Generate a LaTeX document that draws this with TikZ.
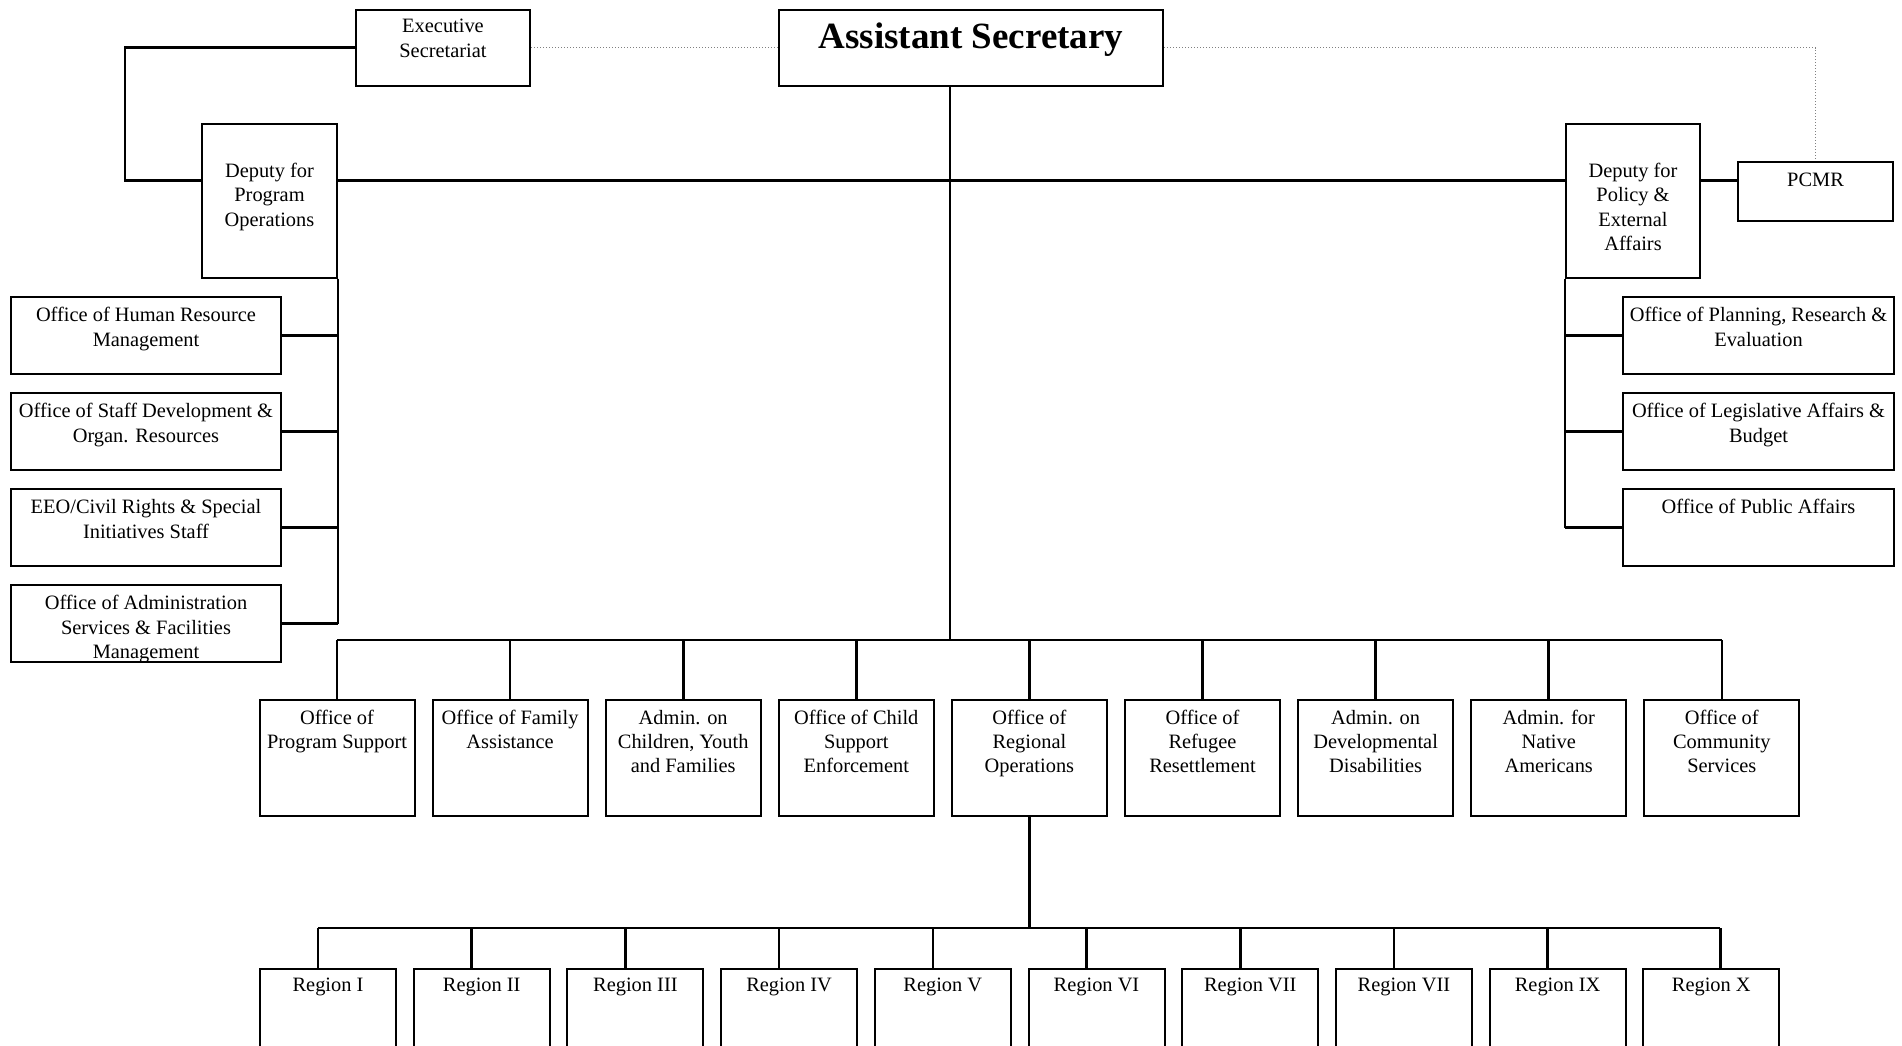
\documentclass[tikz,border=0pt]{standalone}
\usepackage{fontspec}
\setmainfont{Liberation Serif}
\usetikzlibrary{calc}
\newlength\pxu \setlength\pxu{0.5pt}
\newcommand{\obx}[4]{\parbox[c][#2\pxu][t]{#1\pxu}{\centering\rule{0pt}{#3\pxu}#4\par}}
\tikzset{
  ob/.style={draw, line width=1pt, inner sep=0pt, anchor=north west, font=\fontsize{10.2}{12.2}\selectfont},
  conn/.style={line width=1.3pt},
  dotline/.style={densely dotted, line width=0.5pt, gray},
}
\begin{document}
\begin{tikzpicture}[x=0.5pt,y=-0.5pt]
\useasboundingbox (0,0) rectangle (1902,1045);
\clip (0,0) rectangle (1902,1045);
% top level
\node[ob] (exec) at (355,8.5) {\obx{174}{76.5}{23.2}{Executive\\Secretariat}};
\node[ob,font=\fontsize{18.5}{22}\selectfont\bfseries] (asst) at (778,8.5) {\obx{384}{76.5}{39}{Assistant Secretary}};
\node[ob] (dpo) at (201,122.5) {\obx{135}{154}{54}{Deputy for\\Program\\Operations}};
\node[ob] (dpe) at (1565,122.5) {\obx{134}{154}{54}{Deputy for\\Policy \&\\External\\Affairs}};
\node[ob] (pcmr) at (1737,161) {\obx{155}{59}{24.7}{PCMR}};
% left staff
\node[ob] (l1) at (10,296) {\obx{270}{77}{24.7}{Office of Human Resource\\Management}};
\node[ob] (l2) at (10,392) {\obx{270}{77}{24.7}{Office of Staff Development \&\\Organ. Resources}};
\node[ob] (l3) at (10,488) {\obx{270}{77}{24.7}{EEO/Civil Rights \& Special\\Initiatives Staff}};
\node[ob] (l4) at (10,584) {\obx{270}{77}{24.7}{Office of Administration\\Services \& Facilities\\Management}};
% right staff
\node[ob] (r1) at (1622,296) {\obx{271}{77}{24.7}{Office of Planning, Research \&\\Evaluation}};
\node[ob] (r2) at (1622,392) {\obx{271}{77}{24.7}{Office of Legislative Affairs \&\\Budget}};
\node[ob] (r3) at (1622,488) {\obx{271}{77}{24.7}{Office of Public Affairs}};
% middle row
\node[ob] (m1) at (258.5,699) {\obx{155}{116}{24}{Office of\\Program Support}};
\node[ob] (m2) at (431.6,699) {\obx{155}{116}{24}{Office of Family\\Assistance}};
\node[ob] (m3) at (604.7,699) {\obx{155}{116}{24}{Admin. on\\Children, Youth\\and Families}};
\node[ob] (m4) at (777.8,699) {\obx{155}{116}{24}{Office of Child\\Support\\Enforcement}};
\node[ob] (m5) at (950.9,699) {\obx{155}{116}{24}{Office of\\Regional\\Operations}};
\node[ob] (m6) at (1124,699) {\obx{155}{116}{24}{Office of\\Refugee\\Resettlement}};
\node[ob] (m7) at (1297.1,699) {\obx{155}{116}{24}{Admin. on\\Developmental\\Disabilities}};
\node[ob] (m8) at (1470.2,699) {\obx{155}{116}{24}{Admin. for\\Native\\Americans}};
\node[ob] (m9) at (1643.3,699) {\obx{155}{116}{24}{Office of\\Community\\Services}};
% regions
\node[ob] (g1) at (259,968) {\obx{136}{110}{22.5}{Region I}};
\node[ob] (g2) at (412.7,968) {\obx{136}{110}{22.5}{Region II}};
\node[ob] (g3) at (566.4,968) {\obx{136}{110}{22.5}{Region III}};
\node[ob] (g4) at (720.1,968) {\obx{136}{110}{22.5}{Region IV}};
\node[ob] (g5) at (873.8,968) {\obx{136}{110}{22.5}{Region V}};
\node[ob] (g6) at (1027.5,968) {\obx{136}{110}{22.5}{Region VI}};
\node[ob] (g7) at (1181.2,968) {\obx{136}{110}{22.5}{Region VII}};
\node[ob] (g8) at (1334.9,968) {\obx{136}{110}{22.5}{Region VII}};
\node[ob] (g9) at (1488.6,968) {\obx{136}{110}{22.5}{Region IX}};
\node[ob] (g10) at (1642.3,968) {\obx{136}{110}{22.5}{Region X}};
% helper coordinates
\coordinate (hL) at (125,180.5);
\coordinate (trunk) at (950,640);
\coordinate (rbus) at (1028,928);
\foreach \n in {1,...,9} \coordinate (gc\n) at ($(g\n.north)+(-10,0)$);
\coordinate (gc10) at ($(g10.north)+(9,0)$);
% dotted links
\draw[dotline] (exec.east) -- (asst.west);
\draw[dotline] (asst.east) -| (pcmr.north);
% solid links
\draw[conn] (exec.west) -| (hL) -- (hL -| dpo.west);
\draw[conn] (dpo.east |- hL) -- (dpe.west |- hL);
\draw[conn] (dpe.east |- hL) -- (pcmr.west |- hL);
\draw[conn] (asst.south -| trunk) -- (trunk);
% left spine
\draw[conn] (dpo.south east) -- (dpo.south east |- l4.east);
\foreach \n in {l1,l2,l3,l4} \draw[conn] (\n.east) -- (\n.east -| dpo.south east);
% right spine
\draw[conn] (dpe.south west) -- (dpe.south west |- r3.west);
\foreach \n in {r1,r2,r3} \draw[conn] (\n.west) -- (\n.west -| dpe.south west);
% middle bus
\draw[conn] (m1.north |- trunk) -- (m9.north |- trunk);
\foreach \n in {m1,m2,m3,m4,m5,m6,m7,m8,m9} \draw[conn] (\n.north) -- (\n.north |- trunk);
% regional bus
\draw[conn] (m5.south) -- (m5.south |- rbus);
\draw[conn] (gc1 |- rbus) -- (gc10 |- rbus);
\foreach \n in {1,...,10} \draw[conn] (gc\n) -- (gc\n |- rbus);
\end{tikzpicture}
\end{document}
